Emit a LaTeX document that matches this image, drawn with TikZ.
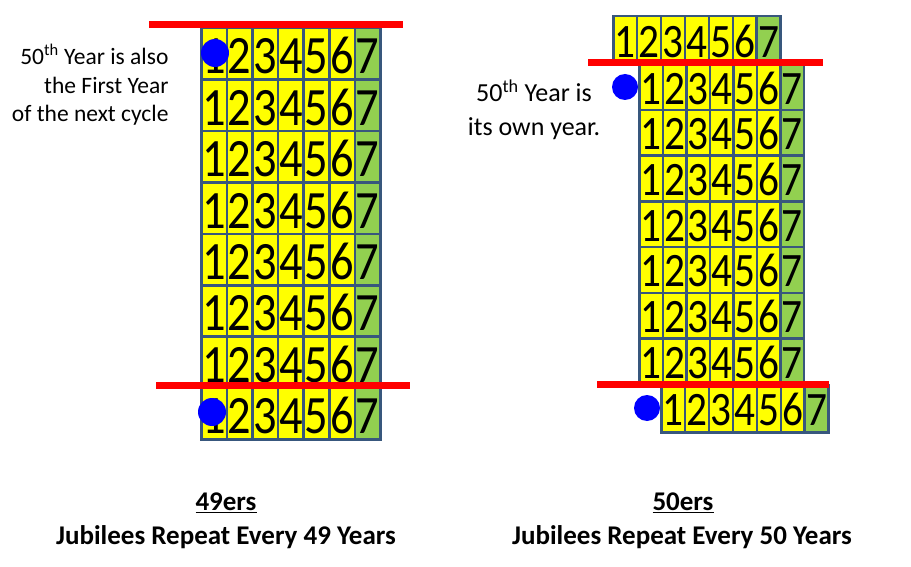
\documentclass[tikz,border=0pt]{standalone}
\usepackage{fontspec}
\setmainfont{Carlito}
\newfontfamily\digitfont[FakeStretch=0.86]{Carlito}
\definecolor{jyellow}{RGB}{255,255,0}
\definecolor{jgreen}{RGB}{146,208,80}
\definecolor{jborder}{RGB}{56,87,125}
\definecolor{jred}{RGB}{255,0,0}
\definecolor{jblue}{RGB}{0,0,255}
\begin{document}
\begin{tikzpicture}[x=1pt,y=-1pt,
  cellbase/.style={draw=jborder, line width=2.5pt, inner sep=0pt, anchor=north west, text depth=0pt},
  cellL/.style={cellbase, minimum width=25.6pt, minimum height=51.4pt, font=\digitfont\fontsize{54}{54}\selectfont, text height=40pt},
  cellR/.style={cellbase, minimum width=23.6pt, minimum height=45.7pt, font=\digitfont\fontsize{48}{48}\selectfont, text height=34pt},
  redline/.style={draw=jred, line width=7pt},
  dot/.style={circle, fill=jblue, inner sep=0pt},
  lbl/.style={font=\fontsize{23.5}{28.5}\selectfont},
  captxt/.style={font=\fontsize{27}{30}\selectfont\bfseries}
]
\useasboundingbox (0,0) rectangle (911,567);
\fill[white] (0,0) rectangle (911,567);

% left grid
\foreach \r in {1,...,8} {
  \foreach \c in {1,...,7} {
    \pgfmathsetmacro\xx{200+(\c-1)*25.6}
    \pgfmathsetmacro\yy{27+(\r-1)*51.4}
    \ifnum\c=7 \def\fc{jgreen}\else\def\fc{jyellow}\fi
    \node[cellL, fill=\fc] (L\r-\c) at (\xx,\yy) {\c};
  }
}

% right grid: top offset row
\foreach \c in {1,...,7} {
  \pgfmathsetmacro\xx{612+(\c-1)*23.9}
  \ifnum\c=7 \def\fc{jgreen}\else\def\fc{jyellow}\fi
  \node[cellR, fill=\fc, minimum width=23.9pt, minimum height=48pt] (R1-\c) at (\xx,15) {\c};
}
% right grid: middle rows
\foreach \r in {2,...,8} {
  \foreach \c in {1,...,7} {
    \pgfmathsetmacro\xx{638+(\c-1)*23.5}
    \pgfmathsetmacro\yy{63+(\r-2)*45.7}
    \ifnum\c=7 \def\fc{jgreen}\else\def\fc{jyellow}\fi
    \node[cellR, fill=\fc] (R\r-\c) at (\xx,\yy) {\c};
  }
}
% right grid: bottom offset row
\foreach \c in {1,...,7} {
  \pgfmathsetmacro\xx{660+(\c-1)*23.9}
  \ifnum\c=7 \def\fc{jgreen}\else\def\fc{jyellow}\fi
  \node[cellR, fill=\fc, minimum width=23.9pt, minimum height=47pt] (R9-\c) at (\xx,384) {\c};
}

% red lines
\coordinate (lt1) at (149,24.5); \coordinate (lt2) at (403,24.5);
\coordinate (lb1) at (156,385.5); \coordinate (lb2) at (410,385.5);
\coordinate (rt1) at (588,63); \coordinate (rt2) at (823,63);
\coordinate (rb1) at (597,384.5); \coordinate (rb2) at (829,384.5);
\draw[redline] (lt1) -- (lt2);
\draw[redline] (lb1) -- (lb2);
\draw[redline] (rt1) -- (rt2);
\draw[redline] (rb1) -- (rb2);

% blue dots
\node[dot, minimum size=28pt] (dl1) at (215,53) {};
\node[dot, minimum size=28pt] (dl2) at (212,412) {};
\node[dot, minimum size=26pt] (dr1) at (625,87) {};
\node[dot, minimum size=26pt] (dr2) at (647,408) {};

% labels
\node[lbl, align=right, anchor=east] (tl) at (172,85)
  {50\textsuperscript{th} Year is also\\the First Year\\of the next cycle};
\node[lbl, font=\fontsize{26}{34}\selectfont, align=center] (tr) at (534,110)
  {50\textsuperscript{th} Year is\\its own year.};

% captions
\node[captxt] (c1a) at (226,503) {\underline{49ers}};
\node[captxt] (c1b) at (226,537) {Jubilees Repeat Every 49 Years};
\node[captxt] (c2a) at (683,503) {\underline{50ers}};
\node[captxt] (c2b) at (682,537) {Jubilees Repeat Every 50 Years};
\end{tikzpicture}
\end{document}
